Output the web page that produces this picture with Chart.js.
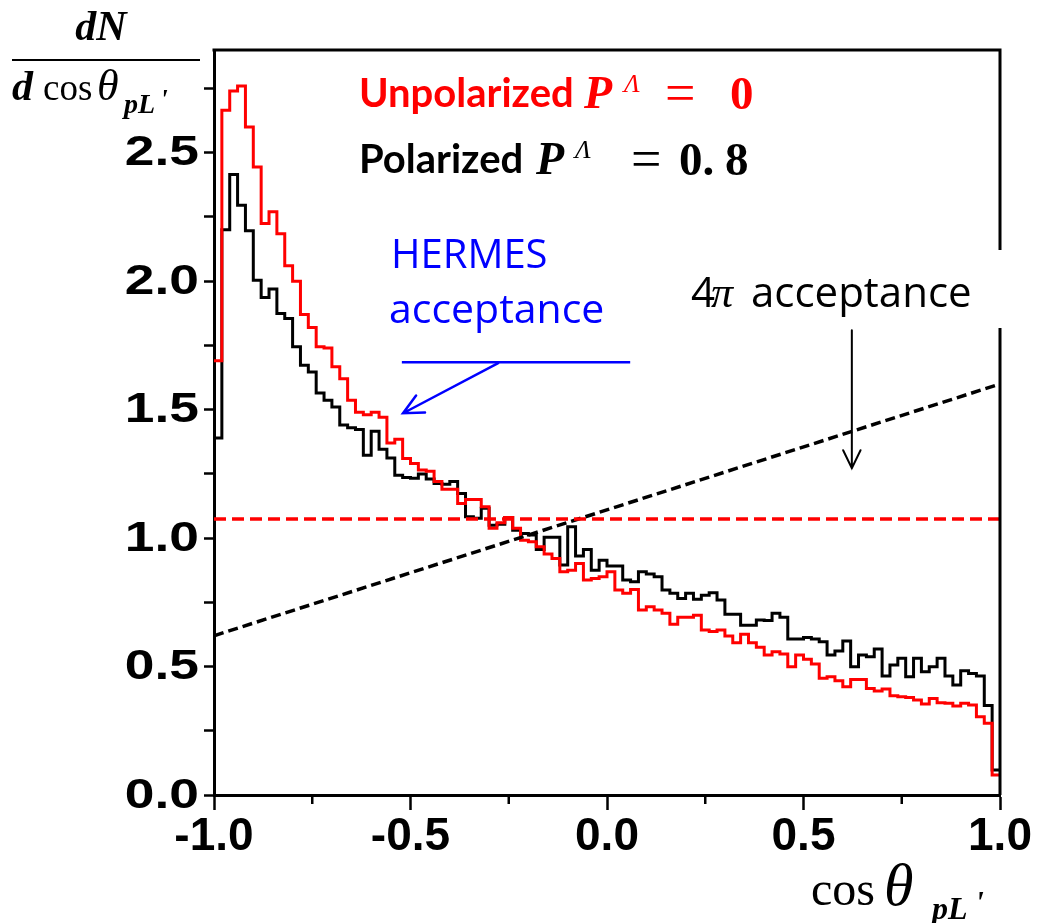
<!DOCTYPE html>
<html>
<head>
<meta charset="utf-8">
<script src="https://cdn.jsdelivr.net/npm/chart.js@4.4.1/dist/chart.umd.min.js"></script>
<style>
  html, body { margin: 0; padding: 0; background: #fff; }
  canvas { display: block; }
</style>
</head>
<body>
<canvas id="c" width="1040" height="923"></canvas>
<script>
// cos(theta_pL') histogram: 100 bins of width 0.02 on [-1, 1]
const binLow = -1.0;
const binWidth = 0.02;

// P^Lambda = 0
const unpolarized = [
  1.69, 2.665, 2.74, 2.76, 2.60, 2.445, 2.225, 2.27, 2.185, 2.06,
  2.00, 1.87, 1.82, 1.745, 1.74, 1.667, 1.62, 1.537, 1.49, 1.48,
  1.49, 1.47, 1.37, 1.385, 1.31, 1.29, 1.265, 1.26, 1.22, 1.19,
  1.19, 1.135, 1.15, 1.15, 1.122, 1.038, 1.06, 1.08, 1.038, 0.992,
  0.986, 0.966, 0.938, 0.921, 0.869, 0.875, 0.901, 0.837, 0.843, 0.85,
  0.869, 0.798, 0.785, 0.80, 0.72, 0.733, 0.72, 0.707, 0.665, 0.692,
  0.692, 0.70, 0.642, 0.636, 0.642, 0.619, 0.593, 0.626, 0.593, 0.575,
  0.545, 0.558, 0.549, 0.499, 0.545, 0.528, 0.51, 0.454, 0.46, 0.445,
  0.421, 0.45, 0.45, 0.415, 0.405, 0.413, 0.386, 0.382, 0.38, 0.37,
  0.354, 0.376, 0.359, 0.357, 0.346, 0.357, 0.35, 0.305, 0.279, 0.078
];

// P^Lambda = 0.8
const polarized = [
  1.39, 2.20, 2.415, 2.296, 2.196, 2.004, 1.937, 1.97, 1.874, 1.855,
  1.745, 1.673, 1.647, 1.565, 1.537, 1.51, 1.44, 1.43, 1.423, 1.323,
  1.416, 1.346, 1.312, 1.245, 1.236, 1.233, 1.25, 1.23, 1.213, 1.21,
  1.22, 1.174, 1.083, 1.077, 1.116, 1.05, 1.054, 1.08, 1.031, 1.018,
  1.012, 0.956, 1.003, 1.003, 0.895, 1.044, 0.93, 0.956, 0.875, 0.914,
  0.891, 0.891, 0.837, 0.830, 0.869, 0.86, 0.85, 0.798, 0.785, 0.765,
  0.785, 0.762, 0.778, 0.787, 0.759, 0.704, 0.704, 0.661, 0.661, 0.681,
  0.679, 0.707, 0.692, 0.607, 0.607, 0.613, 0.607, 0.597, 0.545, 0.561,
  0.599, 0.499, 0.545, 0.538, 0.568, 0.463, 0.506, 0.532, 0.46, 0.532,
  0.48, 0.499, 0.532, 0.463, 0.428, 0.484, 0.473, 0.463, 0.348, 0.097
];

// 4pi acceptance curves at cos = -1 and cos = +1
const flatEnds = [1.074, 1.074];
const slopedEnds = [0.62, 1.60];
const curveX = [-1.0, 1.0];

const xMinorTicks = [-0.75, -0.25, 0.25, 0.75];

function histPoints(values) {
  const pts = values.map((v, i) => ({ x: binLow + i * binWidth, y: v }));
  pts.push({ x: binLow + values.length * binWidth, y: values[values.length - 1] });
  return pts;
}

function arrow(ctx, x1, y1, x2, y2, head, color, width) {
  const a = Math.atan2(y2 - y1, x2 - x1);
  const spread = 0.45;
  ctx.save();
  ctx.strokeStyle = color;
  ctx.lineWidth = width;
  ctx.lineCap = 'round';
  ctx.beginPath();
  ctx.moveTo(x1, y1);
  ctx.lineTo(x2, y2);
  ctx.moveTo(x2 - head * Math.cos(a - spread), y2 - head * Math.sin(a - spread));
  ctx.lineTo(x2, y2);
  ctx.lineTo(x2 - head * Math.cos(a + spread), y2 - head * Math.sin(a + spread));
  ctx.stroke();
  ctx.restore();
}

// write a run of [text, font, x, y] pieces
function pieces(ctx, color, list) {
  ctx.fillStyle = color;
  list.forEach(([t, f, x, y]) => {
    ctx.font = f;
    ctx.fillText(t, x, y);
  });
}

const yLabel = v => (Math.abs(v * 2 - Math.round(v * 2)) < 1e-6 ? v.toFixed(1) : '');

const decorations = {
  id: 'decorations',
  afterDraw(chart) {
    const ctx = chart.ctx;
    const xs = chart.scales.x, ys = chart.scales.y;
    const { left, right, top, bottom } = chart.chartArea;
    const px = v => xs.getPixelForValue(v);
    const py = v => ys.getPixelForValue(v);

    ctx.save();
    ctx.textBaseline = 'alphabetic';
    ctx.textAlign = 'left';

    // y tick labels, drawn a bit wider than the x ones
    ctx.fillStyle = '#000';
    ctx.font = 'bold 42px "Liberation Sans"';
    ctx.textAlign = 'right';
    ctx.textBaseline = 'middle';
    ys.ticks.forEach(t => {
      const s = yLabel(t.value);
      if (!s) return;
      ctx.save();
      ctx.translate(199, py(t.value) + 1);
      ctx.scale(1.27, 1);
      ctx.fillText(s, 0, 0);
      ctx.restore();
    });
    ctx.textAlign = 'left';
    ctx.textBaseline = 'alphabetic';

    // minor ticks on the cos axis
    ctx.strokeStyle = '#000';
    ctx.lineWidth = 2.5;
    ctx.beginPath();
    xMinorTicks.forEach(t => {
      ctx.moveTo(px(t), bottom);
      ctx.lineTo(px(t), bottom + 9);
    });
    ctx.stroke();

    // top and right frame
    ctx.lineWidth = 3;
    ctx.beginPath();
    ctx.moveTo(left - 1.5, top);
    ctx.lineTo(right, top);
    ctx.lineTo(right, bottom);
    ctx.stroke();

    // 4pi label on a white box
    ctx.fillStyle = '#fff';
    ctx.fillRect(682, 250, 330, 78);
    pieces(ctx, '#000', [
      ['4', '42px "Open Sans"', 691, 307],
      ['\u03c0', 'italic 44px "Liberation Serif"', 711, 307],
      ['acceptance', '42px "Open Sans"', 751, 307]
    ]);
    arrow(ctx, px(0.623), py(1.809), px(0.623), py(1.272), 20, '#000', 2);

    // HERMES acceptance
    pieces(ctx, '#0000ff', [
      ['HERMES', '40px "Open Sans"', 391, 268],
      ['acceptance', '41px "Open Sans"', 389, 323]
    ]);
    ctx.strokeStyle = '#0000ff';
    ctx.lineWidth = 2.5;
    ctx.beginPath();
    ctx.moveTo(px(-0.522), py(1.685));
    ctx.lineTo(px(0.059), py(1.685));
    ctx.stroke();
    arrow(ctx, px(-0.277), py(1.681), px(-0.519), py(1.486), 22, '#0000ff', 2.5);

    // legend lines
    pieces(ctx, '#ff0000', [
      ['Unpolarized', 'bold 40px Lato', 359, 107],
      ['P', 'bold italic 46px "Liberation Serif"', 584, 108],
      ['\u039b', 'italic 26px "Liberation Serif"', 624, 92],
      ['=', '54px "Liberation Serif"', 665, 111],
      ['0', 'bold 47px "Liberation Serif"', 730, 109]
    ]);
    pieces(ctx, '#000', [
      ['Polarized', 'bold 40px Lato', 359, 173],
      ['P', 'bold italic 46px "Liberation Serif"', 536, 174],
      ['\u039b', 'italic 26px "Liberation Serif"', 575, 158],
      ['=', '54px "Liberation Serif"', 631, 177],
      ['0.', 'bold 47px "Liberation Serif"', 679, 175],
      ['8', 'bold 47px "Liberation Serif"', 725, 175]
    ]);

    // y axis title: dN / d cos theta_pL'
    ctx.textAlign = 'center';
    pieces(ctx, '#000', [['dN', 'bold italic 42px "Liberation Serif"', 101, 40]]);
    ctx.strokeStyle = '#000';
    ctx.lineWidth = 2;
    ctx.beginPath();
    ctx.moveTo(12, 60);
    ctx.lineTo(200, 60);
    ctx.stroke();
    ctx.textAlign = 'left';
    pieces(ctx, '#000', [
      ['d', 'bold italic 42px "Liberation Serif"', 12, 100],
      ['cos', '37px "Liberation Serif"', 43, 100],
      ['\u03b8', 'italic 44px "Liberation Serif"', 97, 100],
      ['pL', 'bold italic 28px "Liberation Serif"', 124, 113],
      ["'", 'bold italic 28px "Liberation Serif"', 160, 108]
    ]);

    // x axis title: cos theta_pL'
    pieces(ctx, '#000', [
      ['cos', '48px "Liberation Serif"', 811, 905],
      ['\u03b8', 'italic 60px "Liberation Serif"', 884, 905],
      ['pL', 'bold italic 32px "Liberation Serif"', 932, 919],
      ["'", 'bold italic 32px "Liberation Serif"', 975, 913]
    ]);
    ctx.restore();
  }
};

const tickFont = { family: '"Liberation Sans"', size: 46, weight: 'bold' };

new Chart(document.getElementById('c'), {
  type: 'line',
  data: {
    datasets: [
      {
        data: curveX.map((x, i) => ({ x, y: flatEnds[i] })),
        borderColor: '#ff0000', borderWidth: 3.5, borderDash: [12, 6], order: 0
      },
      {
        data: curveX.map((x, i) => ({ x, y: slopedEnds[i] })),
        borderColor: '#000', borderWidth: 3.5, borderDash: [10, 5], order: 0
      },
      {
        data: histPoints(unpolarized),
        borderColor: '#ff0000', borderWidth: 3, stepped: true, order: 1
      },
      {
        data: histPoints(polarized),
        borderColor: '#000', borderWidth: 3, stepped: true, order: 2
      }
    ]
  },
  options: {
    responsive: false,
    animation: false,
    devicePixelRatio: 1,
    layout: { padding: { left: 0, top: 50, right: 40, bottom: 0 } },
    elements: { point: { radius: 0 }, line: { tension: 0 } },
    plugins: { legend: { display: false }, tooltip: { enabled: false } },
    scales: {
      x: {
        type: 'linear', min: -1, max: 1,
        border: { color: '#000', width: 3 },
        grid: { drawOnChartArea: false, tickLength: 15, tickColor: '#000', tickWidth: 2.5 },
        ticks: {
          stepSize: 0.5, padding: 0, color: '#000', font: tickFont, maxRotation: 0,
          callback: v => v.toFixed(1)
        },
        afterFit: s => { s.height = 128; }
      },
      y: {
        min: 0, max: 2.9,
        border: { color: '#000', width: 3 },
        grid: { drawOnChartArea: false, tickLength: 10, tickColor: '#000', tickWidth: 2.5 },
        ticks: {
          display: false, stepSize: 0.25, includeBounds: false, callback: yLabel
        },
        afterFit: s => { s.width = 214; }
      }
    }
  },
  plugins: [decorations]
});
</script>
</body>
</html>
